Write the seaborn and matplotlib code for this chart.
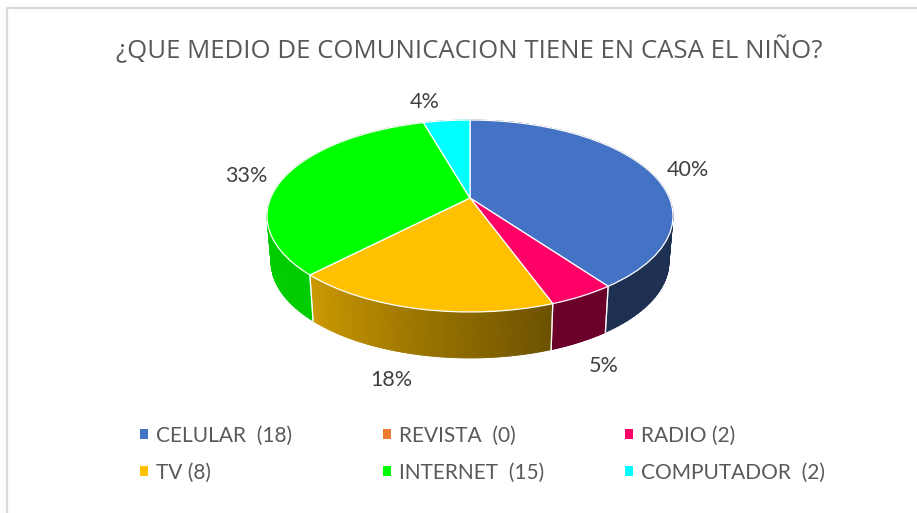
import numpy as np
import matplotlib
matplotlib.use("Agg")
import matplotlib.pyplot as plt
from matplotlib.patches import Patch
from matplotlib.collections import PolyCollection
from matplotlib.transforms import Transform
import seaborn as sns

title = "¿QUE MEDIO DE COMUNICACION TIENE EN CASA EL NIÑO?"
categories = ["CELULAR  (18)", "REVISTA  (0)", "RADIO (2)", "TV (8)", "INTERNET  (15)", "COMPUTADOR  (2)"]
values = [18, 0, 2, 8, 15, 2]
colors = ["#4472C4", "#ED7D31", "#FF0066", "#FFC000", "#00FF00", "#00FFFF"]
pct_labels = ["40%", "", "5%", "18%", "33%", "4%"]

sns.set_theme(style="white")
plt.rcParams["font.family"] = ["Lato", "DejaVu Sans"]

W, H = 917, 513
CX, CY, A, B, K = 470.0, 198.0, 199.4, 92.6, 0.1875
DEPTH, BOTTOM_SCALE = 46.0, 0.98


def project(xy, bottom=False):
    u, v = xy[:, 0], -xy[:, 1]
    d = 1 - K * v
    s = BOTTOM_SCALE if bottom else 1.0
    off = DEPTH if bottom else 0.0
    return np.column_stack([CX + s * A * u / d, CY + B * v / d + off])


class Perspective(Transform):
    input_dims = output_dims = 2

    def transform_non_affine(self, values):
        return project(np.asarray(values))


def shade(clock_deg):
    return np.clip(0.42 + (clock_deg - 160) / 64 * 0.38, 0.42, 0.8)


fig = plt.figure(figsize=(W / 100, H / 100), dpi=100, facecolor="white")
ax = fig.add_axes([0, 0, 1, 1])
wedges, _ = ax.pie(values, colors=colors, startangle=90, counterclock=False, radius=1,
                   wedgeprops=dict(edgecolor="white", linewidth=0.9, zorder=5))
ax.set_aspect("auto")
ax.set_xlim(0, W)
ax.set_ylim(H, 0)
ax.axis("off")

persp = Perspective() + ax.transData
for w, col in zip(wedges, colors):
    w.set_transform(persp)
    if w.theta2 - w.theta1 < 1e-6:
        w.set_visible(False)
        continue
    th = np.radians(np.linspace(w.theta1, w.theta2, 90))
    ring = np.column_stack([np.cos(th), np.sin(th)])
    top, bot = project(ring), project(ring, bottom=True)
    quads, fc = [], []
    base = np.array(matplotlib.colors.to_rgb(col))
    for i in range(len(th) - 1):
        quads.append([top[i], top[i + 1], bot[i + 1], bot[i]])
        clock = (90 - np.degrees(th[i])) % 360
        fc.append(base * shade(clock))
    ax.add_collection(PolyCollection(quads, facecolors=fc, edgecolors=fc, linewidths=0.6, zorder=2))
    for idx in (0, -1):
        if top[idx][1] > 216:
            ax.plot([top[idx][0], bot[idx][0]], [top[idx][1], bot[idx][1]],
                    color="white", lw=0.9, alpha=0.85, zorder=3)

label_xy = [(687.5, 170.5), None, (604, 365.5), (391, 379.5), (246, 176.5), (425, 102.5)]
for txt, xy in zip(pct_labels, label_xy):
    if xy:
        ax.text(*xy, txt, ha="center", va="center", fontsize=15.5, color="#404040", zorder=6)

ax.text(469.5, 50, title, ha="center", va="center", fontsize=18.55, color="#595959",
        family=["Open Sans", "DejaVu Sans"])

col_x = [140, 383, 625]
legend_top = 425.5
for c, x in enumerate(col_x):
    idx = [c, c + 3]
    handles = [Patch(facecolor=colors[i], edgecolor="none") for i in idx]
    labels = [categories[i] for i in idx]
    leg = ax.legend(handles, labels, loc="upper left", bbox_to_anchor=(x / W, 1 - legend_top / H),
                    bbox_transform=fig.transFigure, frameon=False, borderpad=0, borderaxespad=0,
                    fontsize=15, handlelength=0.38, handleheight=0.38, handletextpad=0.4,
                    labelspacing=0.82, labelcolor="#595959")
    ax.add_artist(leg)
    ax.legend_ = None

# light frame of the chart area, visible on its top and left sides
ax.plot([7, 7], [H, 8], color="#D9D9D9", lw=1.6, zorder=1)
ax.plot([7, W], [8, 8], color="#D9D9D9", lw=1.6, zorder=1)

fig.savefig("out.png", dpi=100)
